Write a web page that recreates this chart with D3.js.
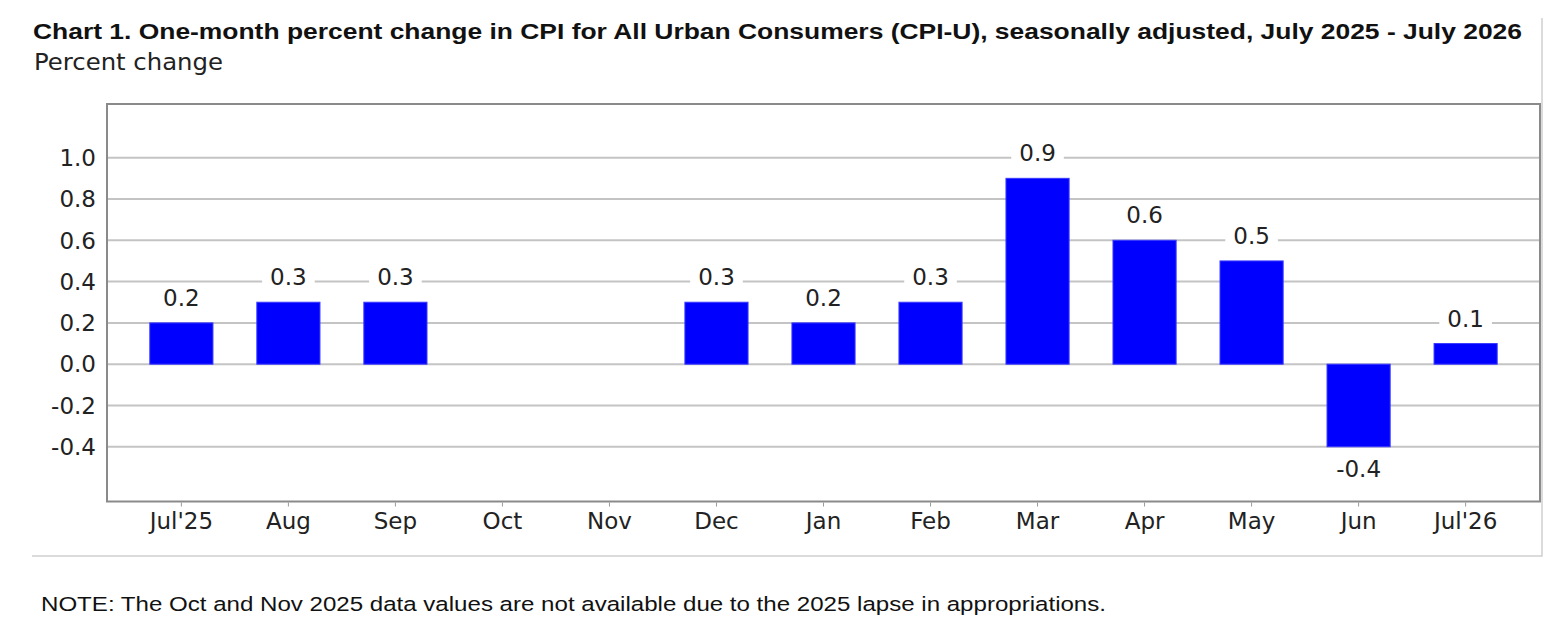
<!DOCTYPE html>
<html>
<head>
<meta charset="utf-8">
<script src="https://cdn.jsdelivr.net/npm/d3@7"></script>
<style>
  body { margin: 0; background: #fff; }
  svg { display: block; }
</style>
</head>
<body>
<div id="chart"></div>
<script>
// months on the x axis
var months = ["Jul'25", "Aug", "Sep", "Oct", "Nov", "Dec", "Jan", "Feb", "Mar", "Apr", "May", "Jun", "Jul'26"];
// one-month percent change, null = not available (Oct, Nov 2025)
var values = [0.2, 0.3, 0.3, null, null, 0.3, 0.2, 0.3, 0.9, 0.6, 0.5, -0.4, 0.1];
var yTicks = [-0.4, -0.2, 0.0, 0.2, 0.4, 0.6, 0.8, 1.0];

var titleText = "Chart 1. One-month percent change in CPI for All Urban Consumers (CPI-U), seasonally adjusted, July 2025 - July 2026";
var subText = "Percent change";
var noteText = "NOTE: The Oct and Nov 2025 data values are not available due to the 2025 lapse in appropriations.";

var W = 1555, H = 628;
var plot = {left: 107, right: 1540, top: 104, bottom: 501.5};

var svg = d3.select("#chart").append("svg")
  .attr("width", W)
  .attr("height", H);

// outer frame (right + bottom edges only)
svg.append("path")
  .attr("d", "M1542,18 V556 H32")
  .attr("fill", "none")
  .attr("stroke", "#cfcfcf")
  .attr("stroke-width", 1.5);

svg.append("text")
  .attr("x", 33).attr("y", 38.5)
  .attr("font-family", "Liberation Sans, Arial, sans-serif")
  .attr("font-weight", "bold")
  .attr("font-size", 22)
  .attr("fill", "#111")
  .attr("textLength", 1489)
  .attr("lengthAdjust", "spacingAndGlyphs")
  .text(titleText);

svg.append("text")
  .attr("x", 34).attr("y", 70)
  .attr("font-family", "DejaVu Sans")
  .attr("font-size", 23)
  .attr("fill", "#222")
  .attr("textLength", 189)
  .attr("lengthAdjust", "spacingAndGlyphs")
  .text(subText);

var x = d3.scaleBand()
  .domain(months)
  .range([plot.left, plot.right])
  .paddingInner(0.41)
  .paddingOuter(0.4);

var y = d3.scaleLinear()
  .domain([-0.665, 1.26])
  .range([plot.bottom, plot.top]);

// gridlines
svg.append("g")
  .selectAll("line")
  .data(yTicks)
  .join("line")
  .attr("x1", plot.left).attr("x2", plot.right)
  .attr("y1", d => y(d)).attr("y2", d => y(d))
  .attr("stroke", "#c4c4c4")
  .attr("stroke-width", 2);

// y tick labels
svg.append("g")
  .selectAll("text")
  .data(yTicks)
  .join("text")
  .attr("x", 96)
  .attr("y", d => y(d))
  .attr("dy", "0.36em")
  .attr("text-anchor", "end")
  .attr("font-family", "DejaVu Sans")
  .attr("font-size", 23)
  .attr("fill", "#222")
  .text(d => d.toFixed(1));

// bars
var data = months.map((m, i) => ({month: m, value: values[i]}))
  .filter(d => d.value !== null);

svg.append("g")
  .selectAll("rect")
  .data(data)
  .join("rect")
  .attr("x", d => x(d.month))
  .attr("width", x.bandwidth())
  .attr("y", d => y(Math.max(0, d.value)))
  .attr("height", d => Math.abs(y(d.value) - y(0)))
  .attr("fill", "#0000ff")
  .attr("stroke", "#3a3aff")
  .attr("stroke-width", 1);

// value labels with white backing
var lab = svg.append("g")
  .selectAll("g")
  .data(data)
  .join("g");

lab.append("text")
  .attr("x", d => x(d.month) + x.bandwidth() / 2)
  .attr("y", d => d.value >= 0 ? y(d.value) - 17 : y(d.value) + 30)
  .attr("text-anchor", "middle")
  .attr("font-family", "DejaVu Sans")
  .attr("font-size", 23)
  .attr("fill", "#222")
  .text(d => d.value.toFixed(1));

lab.each(function() {
  var g = d3.select(this);
  var b = g.select("text").node().getBBox();
  g.insert("rect", "text")
    .attr("x", b.x - 8).attr("y", b.y)
    .attr("width", b.width + 16).attr("height", b.height)
    .attr("fill", "#fff");
});

// plot border
svg.append("rect")
  .attr("x", plot.left).attr("y", plot.top)
  .attr("width", plot.right - plot.left)
  .attr("height", plot.bottom - plot.top)
  .attr("fill", "none")
  .attr("stroke", "#8a8a8a")
  .attr("stroke-width", 2);

// x ticks and labels
var xa = svg.append("g");
xa.selectAll("line")
  .data(months)
  .join("line")
  .attr("x1", d => x(d) + x.bandwidth() / 2)
  .attr("x2", d => x(d) + x.bandwidth() / 2)
  .attr("y1", plot.bottom + 1).attr("y2", plot.bottom + 5)
  .attr("stroke", "#999")
  .attr("stroke-width", 1);

xa.selectAll("text")
  .data(months)
  .join("text")
  .attr("x", d => x(d) + x.bandwidth() / 2)
  .attr("y", 529)
  .attr("text-anchor", "middle")
  .attr("font-family", "DejaVu Sans")
  .attr("font-size", 23)
  .attr("fill", "#222")
  .text(d => d);

svg.append("text")
  .attr("x", 41).attr("y", 611)
  .attr("font-family", "Liberation Sans")
  .attr("font-size", 20.5)
  .attr("fill", "#111")
  .attr("textLength", 1065)
  .attr("lengthAdjust", "spacingAndGlyphs")
  .text(noteText);
</script>
</body>
</html>
